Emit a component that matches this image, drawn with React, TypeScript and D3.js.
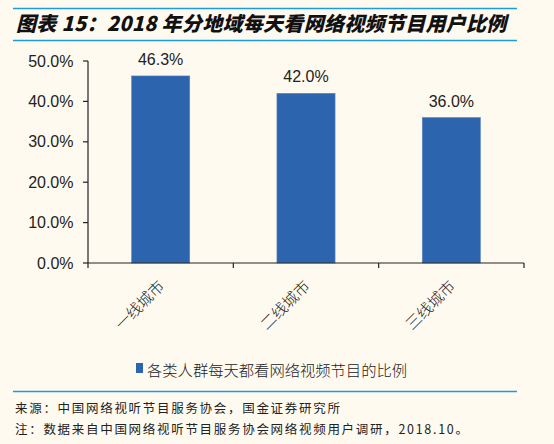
import React from "react";
import * as d3 from "d3";

const categories = ["一线城市", "二线城市", "三线城市"];
const values = [46.3, 42.0, 36.0];
const yTicks = [0, 10, 20, 30, 40, 50];
const seriesName = "各类人群每天都看网络视频节目的比例";
const titleText = "图表 15：2018 年分地域每天看网络视频节目用户比例";
const sourceText = "来源：中国网络视听节目服务协会，国金证券研究所";
const noteText = "注：数据来自中国网络视听节目服务协会网络视频用户调研，2018.10。";

const W = 554;
const H = 444;
const barColor = "#2C64AE";
const lineColor = "#1E9BE0";
const cjk = "'Noto Sans CJK SC', 'Liberation Sans', sans-serif";
const latin = "'Liberation Sans', Arial, sans-serif";

const App: React.FC = () => {
  const x0 = 88;
  const x1 = 524;
  const yBase = 263;
  const yTop = 61;

  const x = d3.scaleBand<string>().domain(categories).range([x0, x1]).paddingInner(0.6).paddingOuter(0.3);
  const y = d3.scaleLinear().domain([0, 50]).range([yBase, yTop]);
  const bw = x.bandwidth();
  // band boundaries for x ticks
  const boundaries = [x0, ...categories.map((c) => (x(c) as number) + bw / 2 + (x1 - x0) / categories.length / 2)];

  return (
    <svg
      width={W}
      height={H}
      style={{ position: "absolute", left: 0, top: 0, background: "#FFFAF0" }}
    >
      <rect x={0} y={0} width={W} height={H} fill="#FFFAF0" />
      {/* title */}
      <line x1={13} x2={517} y1={8.5} y2={8.5} stroke={lineColor} strokeWidth={1.5} />
      <text
        x={16}
        y={31}
        fontFamily={cjk}
        fontSize={20}
        fontWeight={900}
        fontStyle="italic"
        letterSpacing={0.3}
        fill="#111"
      >
        {titleText}
      </text>
      <line x1={13} x2={517} y1={40.5} y2={40.5} stroke={lineColor} strokeWidth={1.5} />

      {/* bars */}
      {categories.map((c, i) => (
        <g key={c}>
          <rect
            x={x(c)}
            y={y(values[i])}
            width={bw}
            height={yBase - y(values[i])}
            fill={barColor}
            stroke="#5E86BE"
            strokeWidth={0.6}
          />
          <text
            x={(x(c) as number) + bw / 2}
            y={y(values[i]) - 11}
            textAnchor="middle"
            fontFamily={latin}
            fontSize={16}
            fill="#222"
          >
            {values[i].toFixed(1) + "%"}
          </text>
          <text
            transform={`translate(${(x(c) as number) + bw / 2 - 22},${304}) rotate(-45)`}
            textAnchor="middle"
            dominantBaseline="central"
            fontFamily={cjk}
            fontSize={15.5}
            fontWeight={300}
            fill="#222"
          >
            {c}
          </text>
        </g>
      ))}

      {/* y axis */}
      <line x1={x0} x2={x0} y1={yTop} y2={yBase} stroke="#222" strokeWidth={1.2} />
      {yTicks.map((t) => (
        <g key={t}>
          <line x1={x0 - 5} x2={x0} y1={y(t)} y2={y(t)} stroke="#222" strokeWidth={1.2} />
          <text
            x={73.5}
            y={y(t)}
            dy="0.35em"
            textAnchor="end"
            fontFamily={latin}
            fontSize={16}
            fill="#222"
          >
            {t.toFixed(1) + "%"}
          </text>
        </g>
      ))}

      {/* x axis */}
      <line x1={x0} x2={x1} y1={yBase} y2={yBase} stroke="#222" strokeWidth={1.2} />
      {boundaries.map((b, i) => (
        <line key={i} x1={b} x2={b} y1={yBase} y2={yBase + 5} stroke="#222" strokeWidth={1.2} />
      ))}

      {/* legend */}
      <rect x={136} y={363} width={7} height={10} fill={barColor} />
      <text x={147} y={368.5} dominantBaseline="central" fontFamily={cjk} fontSize={15.3} fontWeight={300} fill="#222">
        {seriesName}
      </text>

      {/* footer */}
      <line x1={13} x2={517} y1={391.5} y2={391.5} stroke={lineColor} strokeWidth={1.5} />
      <text x={15} y={407} dominantBaseline="central" fontFamily={cjk} fontSize={12.5} letterSpacing={1.7} fill="#222">
        {sourceText}
      </text>
      <text x={15} y={428.5} dominantBaseline="central" fontFamily={cjk} fontSize={12.5} letterSpacing={1.7} fill="#222">
        {noteText}
      </text>
    </svg>
  );
};

export default App;
